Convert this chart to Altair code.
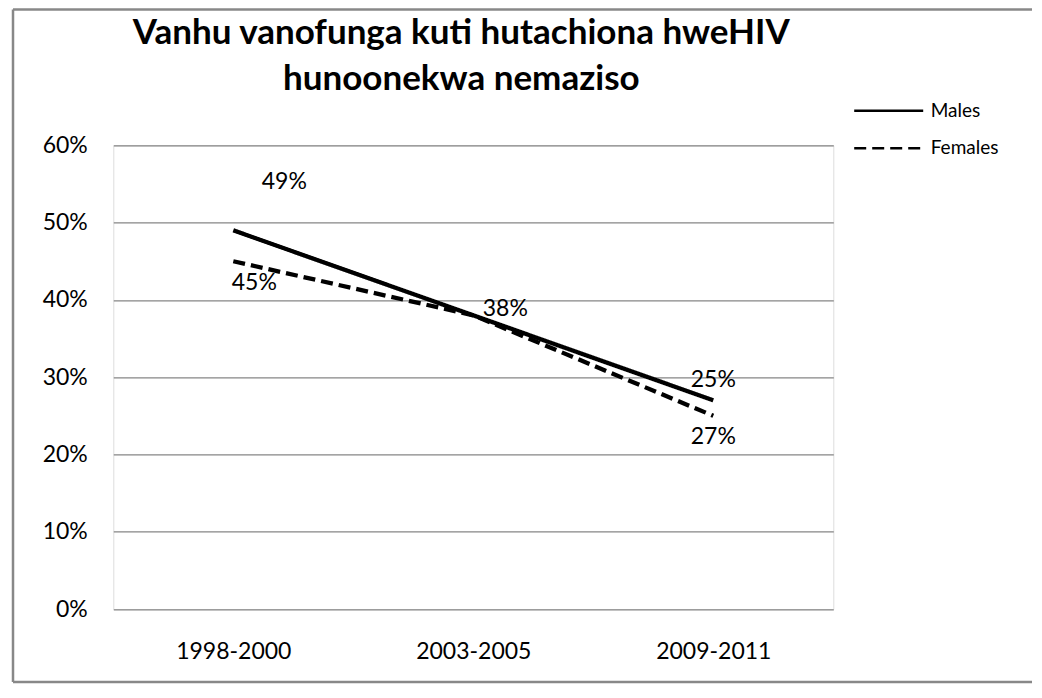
import altair as alt
import pandas as pd

# ---- data ----
periods = ["1998-2000", "2003-2005", "2009-2011"]
males = [0.49, 0.38, 0.27]
females = [0.45, 0.38, 0.25]
series_names = ["Males", "Females"]

# data labels as printed on the reference (text and the level they sit at)
label_periods = ["1998-2000", "1998-2000", "2003-2005", "2009-2011", "2009-2011"]
label_texts = ["49%", "45%", "38%", "25%", "27%"]
label_levels = [0.553, 0.422, 0.388, 0.296, 0.223]

title_lines = ["Vanhu vanofunga kuti hutachiona hweHIV", "hunoonekwa nemaziso"]
y_ticks = [0, 0.1, 0.2, 0.3, 0.4, 0.5, 0.6]

# ---- tables ----
df = pd.DataFrame({
    "period": periods * 2,
    "value": males + females,
    "series": ["Males"] * len(periods) + ["Females"] * len(periods),
})
labels_df = pd.DataFrame({"period": label_periods, "text": label_texts, "value": label_levels})

FONT = "Lato"
PLOT_W, PLOT_H = 720, 463.7
PAD_L, PAD_T = 105.3, 137.3
TOTAL_W, TOTAL_H = 1024, 676

x_enc = alt.X(
    "period:N",
    sort=periods,
    scale=alt.Scale(domain=periods, padding=0.5),
    axis=alt.Axis(title=None, labelAngle=0, domain=False, ticks=False, grid=False,
                  labelPadding=31, labelFontSize=23, labelFont=FONT, labelColor="black"),
)
y_enc = alt.Y(
    "value:Q",
    scale=alt.Scale(domain=[0, 0.6], nice=False, zero=True),
    axis=alt.Axis(title=None, values=y_ticks, format=".0%", domain=False, ticks=False,
                  grid=True, gridColor="#868686", gridWidth=1.3, labelPadding=26,
                  labelFontSize=23, labelFont=FONT, labelColor="black"),
)

lines = alt.Chart(df).mark_line(color="black", strokeWidth=4.3).encode(
    x=x_enc,
    y=y_enc,
    strokeDash=alt.StrokeDash(
        "series:N",
        scale=alt.Scale(domain=series_names, range=[[1, 0], [12, 6]]),
        legend=alt.Legend(
            title=None, orient="none", legendX=739.4, legendY=-44.6,
            symbolType="stroke", symbolSize=4761, symbolStrokeWidth=2.5,
            symbolStrokeColor="black", clipHeight=20, rowPadding=17.6,
            labelFont=FONT, labelFontSize=19, labelColor="black", labelOffset=6,
            padding=0,
        ),
    ),
)

label_dx = [51, 21, 32, 0, 0]
label_layers = []
for i in range(len(label_texts)):
    label_layers.append(
        alt.Chart(labels_df.iloc[[i]]).mark_text(
            dx=label_dx[i], fontSize=23, font=FONT, color="black", align="center", baseline="middle"
        ).encode(x=alt.X("period:N", sort=periods), y=alt.Y("value:Q"), text="text:N")
    )

# outer chart frame (open on the right, as in the reference where it runs past the edge)
one = pd.DataFrame({"a": [0]})
frame_style = dict(color="#888888", strokeWidth=2.5)
left_x = 5 - PAD_L
top_y = 1.5 - PAD_T
bottom_y = TOTAL_H - 2 - PAD_T
right_x = TOTAL_W - PAD_L
frame_top = alt.Chart(one).mark_rule(**frame_style).encode(
    x=alt.value(left_x), x2=alt.value(right_x), y=alt.value(top_y))
frame_bottom = alt.Chart(one).mark_rule(**frame_style).encode(
    x=alt.value(left_x), x2=alt.value(right_x), y=alt.value(bottom_y))
frame_left = alt.Chart(one).mark_rule(**frame_style).encode(
    x=alt.value(left_x), y=alt.value(top_y), y2=alt.value(bottom_y))

chart = alt.layer(frame_top, frame_bottom, frame_left, lines, *label_layers).properties(
    width=PLOT_W,
    height=PLOT_H,
    autosize=alt.AutoSizeParams(type="none"),
    padding={"left": PAD_L, "top": PAD_T, "right": TOTAL_W - PAD_L - PLOT_W,
             "bottom": TOTAL_H - PAD_T - PLOT_H},
    title=alt.TitleParams(
        text=title_lines, font=FONT, fontSize=35, fontWeight="bold", color="black",
        anchor="middle", frame="group", lineHeight=46, dx=-12, offset=-89,
    ),
).configure_view(stroke=None).configure(background="white")

chart.save("out.html", embed_options={"renderer": "svg", "actions": False})
